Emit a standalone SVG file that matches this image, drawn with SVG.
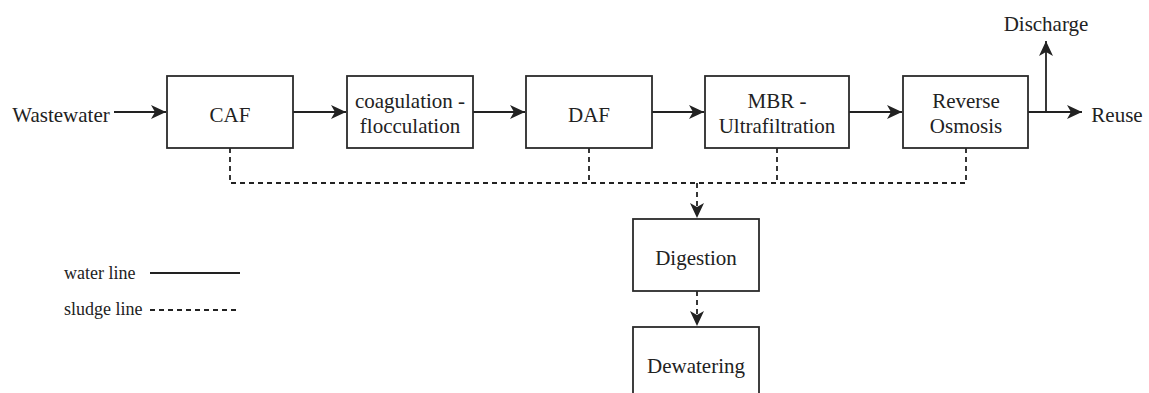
<svg xmlns="http://www.w3.org/2000/svg" width="1149" height="393" viewBox="0 0 1149 393">
<style>
.box{fill:#fff;stroke:#2b2b2b;stroke-width:1.8}
.t{font-family:"Liberation Serif","Times New Roman",serif;font-size:21px;fill:#222;text-anchor:middle}
.lg{font-family:"Liberation Serif","Times New Roman",serif;font-size:18px;fill:#222}
.w{fill:none;stroke:#222;stroke-width:1.8}
.s{fill:none;stroke:#222;stroke-width:1.8;stroke-dasharray:5 4}
</style>
<defs>
<marker id="ah" markerUnits="userSpaceOnUse" markerWidth="16" markerHeight="14" refX="15" refY="7" orient="auto">
<path d="M0,0 L15,7 L0,14 L4,7 z" fill="#222"/>
</marker>
</defs>
<g id="connectors">
<line class="w" x1="114" y1="112" x2="166" y2="112" marker-end="url(#ah)"/>
<line class="w" x1="293" y1="112" x2="346" y2="112" marker-end="url(#ah)"/>
<line class="w" x1="473" y1="112" x2="525" y2="112" marker-end="url(#ah)"/>
<line class="w" x1="652" y1="112" x2="704" y2="112" marker-end="url(#ah)"/>
<line class="w" x1="849" y1="112" x2="902" y2="112" marker-end="url(#ah)"/>
<line class="w" x1="1028" y1="112" x2="1082" y2="112" marker-end="url(#ah)"/>
<line class="w" x1="1046" y1="112" x2="1046" y2="41" marker-end="url(#ah)"/>
<polyline class="s" points="230,148 230,183 966,183 966,148"/>
<line class="s" x1="589" y1="148" x2="589" y2="183"/>
<line class="s" x1="777" y1="148" x2="777" y2="183"/>
<line class="s" x1="697" y1="183" x2="697" y2="218" marker-end="url(#ah)"/>
<line class="s" x1="697" y1="291" x2="697" y2="326" marker-end="url(#ah)"/>
</g>
<g id="wastewater"><text class="t" x="61" y="122">Wastewater</text></g>
<g id="caf"><rect class="box" x="167" y="76" width="126" height="72"/><text class="t" x="230" y="122">CAF</text></g>
<g id="coag"><rect class="box" x="347" y="76" width="126" height="72"/><text class="t" x="410" y="108">coagulation -</text><text class="t" x="410" y="133">flocculation</text></g>
<g id="daf"><rect class="box" x="526" y="76" width="126" height="72"/><text class="t" x="589" y="122">DAF</text></g>
<g id="mbr"><rect class="box" x="705" y="76" width="144" height="72"/><text class="t" x="777" y="108">MBR -</text><text class="t" x="777" y="133">Ultrafiltration</text></g>
<g id="ro"><rect class="box" x="903" y="76" width="125" height="72"/><text class="t" x="966" y="108">Reverse</text><text class="t" x="966" y="133">Osmosis</text></g>
<g id="discharge"><text class="t" x="1046" y="31">Discharge</text></g>
<g id="reuse"><text class="t" x="1117" y="122">Reuse</text></g>
<g id="digestion"><rect class="box" x="633" y="219" width="126" height="72"/><text class="t" x="696" y="265">Digestion</text></g>
<g id="dewatering"><rect class="box" x="633" y="327" width="126" height="80"/><text class="t" x="696" y="373">Dewatering</text></g>
<g id="legend">
<text class="lg" x="64" y="279">water line</text>
<line class="w" x1="150" y1="273" x2="240" y2="273"/>
<text class="lg" x="64" y="315">sludge line</text>
<line class="s" x1="150" y1="310" x2="240" y2="310"/>
</g>
</svg>
